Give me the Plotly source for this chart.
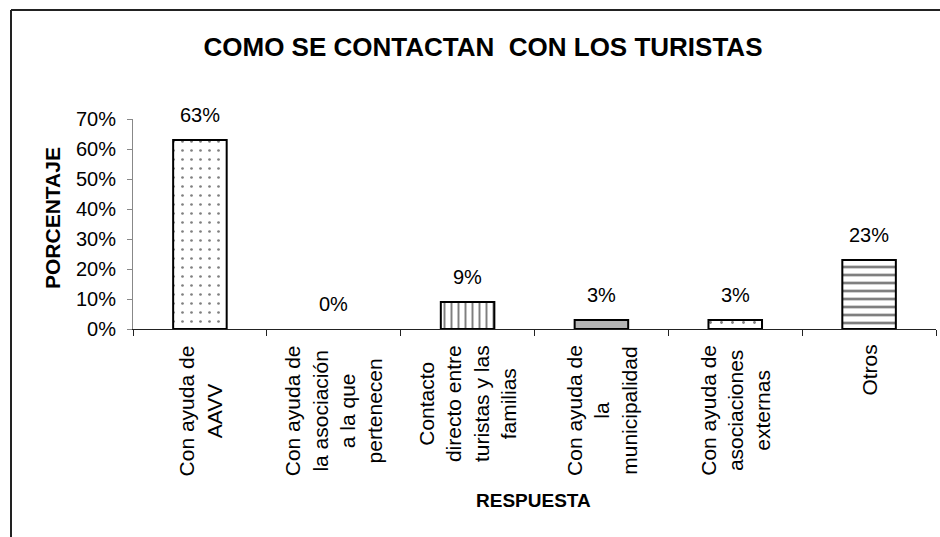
import plotly.graph_objects as go

# Survey results: how families get in touch with tourists
categories = [
    "Con ayuda de<br>AAVV",
    "Con ayuda de<br>la asociación<br>a la que<br>pertenecen",
    "Contacto<br>directo entre<br>turistas y las<br>familias",
    "Con ayuda de<br>la<br>municipalidad",
    "Con ayuda de<br>asociaciones<br>externas",
    "Otros",
]
percentages = [63, 0, 9, 3, 3, 23]
y_ticks = [0, 10, 20, 30, 40, 50, 60, 70]
y_tick_labels = [f"{v}%" for v in y_ticks]

# Per-bar fill styles (black-and-white print look)
fill_colors = ["white", "white", "white", "#b4b4b4", "white", "white"]
pattern_shapes = [".", "", "|", "", ".", "-"]
pattern_sizes = [9, 8, 7, 8, 11, 8]
pattern_solidity = [0.07, 0.1, 0.28, 0.1, 0.05, 0.34]

FONT = "Liberation Sans, Arial, sans-serif"
W, H = 940, 537
ML, MR, MT, MB = 133, 4, 119, 208

fig = go.Figure()
# one trace per bar so every bar keeps its own fill pattern
for cat, val, col, shp, sz, sol in zip(categories, percentages, fill_colors,
                                       pattern_shapes, pattern_sizes, pattern_solidity):
    fig.add_trace(go.Bar(
        x=[cat],
        y=[val],
        marker=dict(
            color=col,
            line=dict(color="black", width=2 if val > 0 else 0),
            pattern=dict(shape=shp, size=sz, solidity=sol,
                         fgcolor="black", bgcolor=col, fillmode="overlay"),
        ),
        showlegend=False,
        hoverinfo="skip",
    ))

# Value labels above each bar
for cat, val in zip(categories, percentages):
    fig.add_annotation(
        x=cat, y=val, xref="x", yref="y",
        text=f"{val}%", showarrow=False,
        yanchor="bottom", yshift=12,
        font=dict(family=FONT, size=20, color="black"),
    )

# Rotated category labels under the axis, lines centred
for cat in categories:
    fig.add_annotation(
        x=cat, y=0, xref="x", yref="y",
        text=cat, showarrow=False, textangle=-90,
        align="center", yanchor="top", xanchor="center", yshift=-14,
        font=dict(family=FONT, size=21, color="black"),
    )

# Axis titles
pw, ph = W - ML - MR, H - MT - MB
fig.add_annotation(
    x=(533 - ML) / pw, y=-(500 - (H - MB)) / ph,
    xref="paper", yref="paper", text="<b>RESPUESTA</b>", showarrow=False,
    xanchor="center", yanchor="middle",
    font=dict(family=FONT, size=19, color="black"),
)
fig.add_annotation(
    x=-(ML - 52) / pw, y=(H - MB - 218) / ph,
    xref="paper", yref="paper", text="<b>PORCENTAJE</b>", showarrow=False,
    textangle=-90, xanchor="center", yanchor="middle",
    font=dict(family=FONT, size=21, color="black"),
)

# Outer frame lines (top and left edges of the chart area)
fx0 = -(ML - 11) / pw
fy_top = 1 + (MT - 10) / ph
fy_bot = -MB / ph - 0.01
fx_right = 1 + MR / pw + 0.01
fig.add_shape(type="line", xref="paper", yref="paper",
              x0=fx0, x1=fx_right, y0=fy_top, y1=fy_top,
              line=dict(color="#222222", width=2))
fig.add_shape(type="line", xref="paper", yref="paper",
              x0=fx0, x1=fx0, y0=fy_top, y1=fy_bot,
              line=dict(color="#222222", width=2))

fig.update_layout(
    width=W, height=H,
    margin=dict(l=ML, r=MR, t=MT, b=MB, pad=0),
    paper_bgcolor="white", plot_bgcolor="white",
    barmode="overlay",
    bargap=0.6,
    font=dict(family=FONT, size=20, color="black"),
    title=dict(
        text="<b>COMO SE CONTACTAN  CON LOS TURISTAS</b>",
        x=483 / W, xanchor="center", y=1 - 47 / H, yanchor="middle",
        font=dict(family=FONT, size=26, color="black"),
    ),
    xaxis=dict(
        categoryorder="array", categoryarray=categories,
        showticklabels=False, tickson="boundaries",
        ticks="outside", ticklen=6, tickcolor="#222222", tickwidth=1,
        showline=True, linecolor="#222222", linewidth=1,
        showgrid=False, zeroline=False,
    ),
    yaxis=dict(
        range=[0, 70], tickmode="array", tickvals=y_ticks, ticktext=y_tick_labels,
        ticks="outside", ticklen=5, tickcolor="#888888",
        ticklabelstandoff=7,
        showline=True, linecolor="#888888", linewidth=1,
        showgrid=False, zeroline=False,
        tickfont=dict(family=FONT, size=20, color="black"),
    ),
)

fig.write_html("out.html")
